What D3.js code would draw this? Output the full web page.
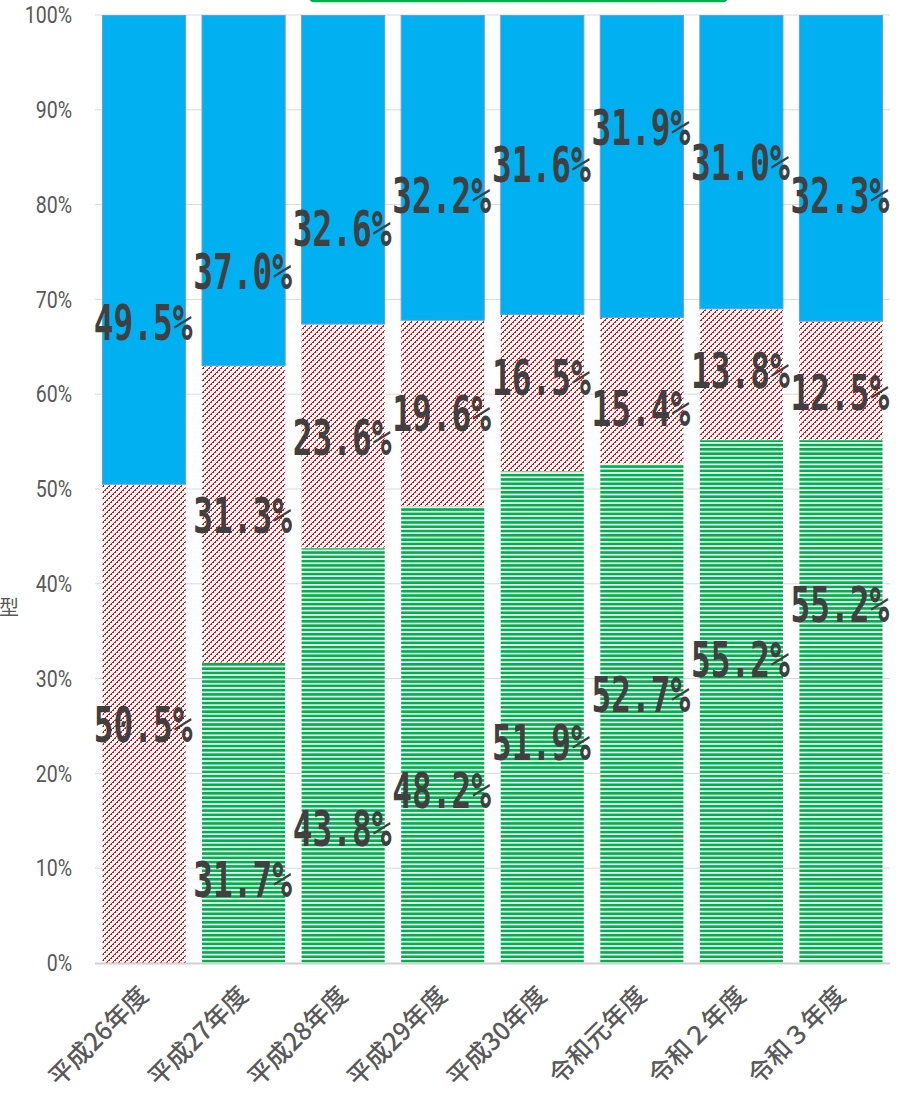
<!DOCTYPE html>
<html>
<head>
<meta charset="utf-8">
<script src="https://cdn.jsdelivr.net/npm/d3@7"></script>
<style>
  body { margin: 0; background: #fff; }
  svg { display: block; }
</style>
</head>
<body>
<div id="chart"></div>
<script>
// values (percent)
const categories = ["平成26年度", "平成27年度", "平成28年度", "平成29年度", "平成30年度", "令和元年度", "令和２年度", "令和３年度"];
const greenValues = [0, 31.7, 43.8, 48.2, 51.9, 52.7, 55.2, 55.2];
const redValues = [50.5, 31.3, 23.6, 19.6, 16.5, 15.4, 13.8, 12.5];
const blueValues = [49.5, 37.0, 32.6, 32.2, 31.6, 31.9, 31.0, 32.3];

// where the (hand placed) data labels sit, in percent of the y axis
const greenLabelAt = [null, 8.8, 14.2, 18.2, 23.3, 28.3, 32.0, 37.8];
const redLabelAt = [25.2, 47.2, 55.5, 58.0, 61.8, 58.5, 62.5, 60.2];
const blueLabelAt = [67.6, 73.0, 77.5, 81.0, 84.2, 88.2, 84.5, 81.0];

const yTicks = [0, 10, 20, 30, 40, 50, 60, 70, 80, 90, 100];

const width = 915,
      height = 1096;

const margin = { top: 15, right: 25, bottom: 133, left: 95 };

const svg = d3.select("#chart")
    .append("svg")
    .attr("width", width)
    .attr("height", height);

const defs = svg.append("defs");

const green = defs.append("pattern")
    .attr("id", "green-lines")
    .attr("patternUnits", "userSpaceOnUse")
    .attr("width", 8)
    .attr("height", 4.3);
green.append("rect").attr("width", 8).attr("height", 4.3).attr("fill", "#fff");
green.append("rect").attr("y", 0.8).attr("width", 8).attr("height", 2.7).attr("fill", "#00b050");

// red diagonal hatch drawn as crisp pixel steps
const red = defs.append("pattern")
    .attr("id", "red-hatch")
    .attr("patternUnits", "userSpaceOnUse")
    .attr("width", 6)
    .attr("height", 6);
red.append("rect").attr("width", 6).attr("height", 6).attr("fill", "#fff");
red.selectAll("rect.px")
    .data(d3.range(6))
    .join("rect")
    .attr("class", "px")
    .attr("x", r => (6 - r) % 6)
    .attr("y", r => r)
    .attr("width", r => r % 2 === 0 ? 2 : 1)
    .attr("height", 1)
    .attr("fill", "#ff0000")
    .attr("shape-rendering", "crispEdges");

const rows = categories.map((c, i) => ({
    category: c,
    green: greenValues[i],
    red: redValues[i],
    blue: blueValues[i]
}));

const keys = ["green", "red", "blue"];
const fills = { green: "url(#green-lines)", red: "url(#red-hatch)", blue: "#00b0f0" };
const strokes = { green: "none", red: "none", blue: "#6a9fd6" };
const labelAt = { green: greenLabelAt, red: redLabelAt, blue: blueLabelAt };
const values = { green: greenValues, red: redValues, blue: blueValues };

const x = d3.scaleBand()
    .domain(categories)
    .range([margin.left, width - margin.right])
    .paddingInner(0.155)
    .paddingOuter(0.07);

const y = d3.scaleLinear()
    .domain([0, 100])
    .range([height - margin.bottom, margin.top]);

// gridlines
svg.append("g")
    .selectAll("line")
    .data(yTicks.slice(1))
    .join("line")
    .attr("x1", margin.left)
    .attr("x2", width - margin.right)
    .attr("y1", d => y(d))
    .attr("y2", d => y(d))
    .attr("stroke", "#d9d9d9")
    .attr("stroke-width", 1);

// y tick labels
svg.append("g")
    .selectAll("text")
    .data(yTicks)
    .join("text")
    .attr("transform", d => `translate(72, ${y(d)}) scale(0.85, 1)`)
    .attr("dy", "0.36em")
    .attr("text-anchor", "end")
    .attr("font-family", "Roboto, 'Noto Sans', sans-serif")
    .attr("font-size", "23px")
    .attr("fill", "#595959")
    .text(d => `${d}%`);

const stacked = d3.stack().keys(keys)(rows);

svg.append("g")
    .selectAll("g")
    .data(stacked)
    .join("g")
    .attr("fill", d => fills[d.key])
    .attr("stroke", d => strokes[d.key])
    .selectAll("rect")
    .data(d => d.filter(s => s[1] - s[0] > 0))
    .join("rect")
    .attr("x", d => x(d.data.category) + 0.5)
    .attr("y", d => y(d[1]) + 0.5)
    .attr("width", x.bandwidth() - 1)
    .attr("height", d => y(d[0]) - y(d[1]) - 0.5);

// baseline
svg.append("line")
    .attr("x1", margin.left)
    .attr("x2", width - margin.right)
    .attr("y1", y(0) + 0.5)
    .attr("y2", y(0) + 0.5)
    .attr("stroke", "#d0d0d0")
    .attr("stroke-width", 2);

// x labels
svg.append("g")
    .selectAll("text")
    .data(categories)
    .join("text")
    .attr("transform", d => `translate(${x(d) + x.bandwidth() / 2 + 6}, 997) rotate(-45)`)
    .attr("text-anchor", "end")
    .attr("font-family", "'Noto Sans CJK JP', sans-serif")
    .attr("font-weight", 500)
    .attr("font-size", "25px")
    .attr("fill", "#595959")
    .text(d => d);

// data labels
const labels = [];
keys.forEach(k => {
    categories.forEach((c, i) => {
        if (values[k][i] > 0) labels.push({ category: c, value: values[k][i], at: labelAt[k][i] });
    });
});

svg.append("g")
    .selectAll("text")
    .data(labels)
    .join("text")
    .attr("transform", d => `translate(${x(d.category) + x.bandwidth() / 2 - 1}, ${y(d.at)}) scale(0.67, 1)`)
    .attr("dy", "0.36em")
    .attr("text-anchor", "middle")
    .attr("font-family", "'DejaVu Sans Mono', monospace")
    .attr("font-weight", "bold")
    .attr("font-size", "49px")
    .attr("fill", "#404040")
    .text(d => `${d.value.toFixed(1)}%`);

// cut-off axis title and legend frame
svg.append("text")
    .attr("x", 9)
    .attr("y", 615)
    .attr("text-anchor", "middle")
    .attr("font-family", "'Noto Sans CJK JP', sans-serif")
    .attr("font-size", "20px")
    .attr("fill", "#595959")
    .text("型");

svg.append("rect")
    .attr("x", 310)
    .attr("y", -30)
    .attr("width", 417)
    .attr("height", 31)
    .attr("rx", 4)
    .attr("fill", "none")
    .attr("stroke", "#00b050")
    .attr("stroke-width", 2.5);
</script>
</body>
</html>
